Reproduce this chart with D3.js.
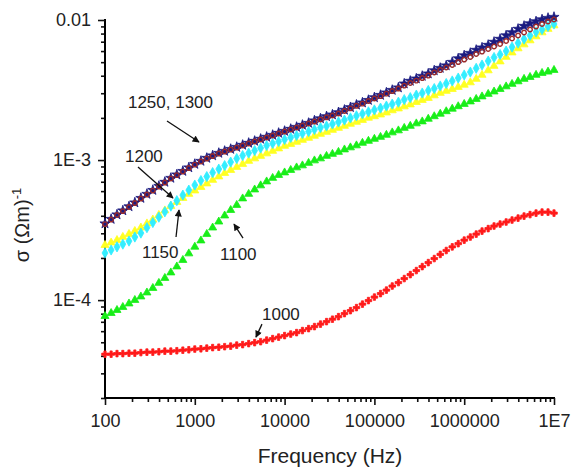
<!DOCTYPE html>
<html><head><meta charset="utf-8">
<script src="https://cdn.jsdelivr.net/npm/d3@7"></script>
<style>body{margin:0;background:#fff}text{font-family:"Liberation Sans",Arial,sans-serif}</style>
</head><body><svg id="c" width="572" height="475"></svg>
<script>
const freq = [100,117,136,158,185,215,251,293,341,398,464,541,631,736,858,
1000,1170,1360,1580,1850,2150,2510,2930,3410,3980,4640,5410,6310,7360,8580,
10000,11700,13600,15800,18500,21500,25100,29300,34100,39800,46400,54100,63100,73600,85800,
100000,117000,136000,158000,185000,215000,251000,293000,341000,398000,464000,541000,631000,736000,858000,
1000000,1170000,1360000,1580000,1850000,2150000,2510000,2930000,3410000,3980000,4640000,5410000,6310000,7360000,8580000,
10000000];

const sigma1000 = [4.11e-5,4.11e-5,4.15e-5,4.15e-5,4.18e-5,4.18e-5,4.22e-5,4.25e-5,4.25e-5,4.28e-5,4.32e-5,4.32e-5,4.35e-5,4.39e-5,4.42e-5,
4.47e-5,4.49e-5,4.54e-5,4.58e-5,4.61e-5,4.65e-5,4.69e-5,4.77e-5,4.81e-5,4.89e-5,4.97e-5,5.05e-5,5.18e-5,5.31e-5,5.44e-5,
5.58e-5,5.72e-5,5.86e-5,6.06e-5,6.26e-5,6.47e-5,6.74e-5,7.02e-5,7.31e-5,7.62e-5,8.01e-5,8.41e-5,8.84e-5,9.36e-5,9.92e-5,
1.051e-4,1.113e-4,1.179e-4,1.26e-4,1.334e-4,1.425e-4,1.521e-4,1.625e-4,1.735e-4,1.853e-4,1.98e-4,2.12e-4,2.26e-4,2.40e-4,2.53e-4,
2.68e-4,2.82e-4,2.96e-4,3.11e-4,3.24e-4,3.38e-4,3.49e-4,3.61e-4,3.73e-4,3.85e-4,3.98e-4,4.08e-4,4.18e-4,4.25e-4,4.25e-4,
4.18e-4];

const sigma1100 = [7.68e-5,8.07e-5,8.48e-5,8.91e-5,9.44e-5,1.00e-4,1.059e-4,1.131e-4,1.218e-4,1.324e-4,1.437e-4,1.572e-4,1.735e-4,1.93e-4,2.15e-4,
2.40e-4,2.66e-4,2.96e-4,3.29e-4,3.63e-4,4.01e-4,4.39e-4,4.77e-4,5.31e-4,5.72e-4,6.15e-4,6.58e-4,7.02e-4,7.44e-4,7.81e-4,
8.14e-4,8.48e-4,8.84e-4,9.14e-4,9.52e-4,9.92e-4,1.025e-3,1.068e-3,1.104e-3,1.141e-3,1.188e-3,1.229e-3,1.27e-3,1.324e-3,1.368e-3,
1.414e-3,1.46e-3,1.51e-3,1.572e-3,1.625e-3,1.693e-3,1.75e-3,1.823e-3,1.883e-3,1.967e-3,2.05e-3,2.136e-3,2.226e-3,2.32e-3,2.416e-3,
2.51e-3,2.615e-3,2.725e-3,2.84e-3,2.96e-3,3.08e-3,3.21e-3,3.35e-3,3.49e-3,3.64e-3,3.79e-3,3.91e-3,4.05e-3,4.18e-3,4.27e-3,
4.39e-3];

const sigma1150 = [2.47e-4,2.57e-4,2.68e-4,2.82e-4,2.96e-4,3.11e-4,3.29e-4,3.52e-4,3.75e-4,4.05e-4,4.36e-4,4.69e-4,5.01e-4,5.35e-4,5.72e-4,
6.05e-4,6.41e-4,6.79e-4,7.2e-4,7.62e-4,8.07e-4,8.48e-4,8.91e-4,9.36e-4,9.84e-4,1.025e-3,1.068e-3,1.113e-3,1.16e-3,1.208e-3,
1.26e-3,1.30e-3,1.346e-3,1.39e-3,1.437e-3,1.486e-3,1.534e-3,1.585e-3,1.638e-3,1.693e-3,1.75e-3,1.81e-3,1.87e-3,1.93e-3,2.00e-3,
2.05e-3,2.11e-3,2.18e-3,2.26e-3,2.33e-3,2.41e-3,2.49e-3,2.59e-3,2.68e-3,2.77e-3,2.89e-3,3.01e-3,3.11e-3,3.21e-3,3.32e-3,
3.44e-3,3.58e-3,3.79e-3,4.05e-3,4.36e-3,4.69e-3,5.05e-3,5.44e-3,5.85e-3,6.26e-3,6.68e-3,7.14e-3,7.62e-3,8.14e-3,8.62e-3,
9.13e-3];

const sigma1200 = [2.17e-4,2.28e-4,2.40e-4,2.51e-4,2.64e-4,2.82e-4,3.01e-4,3.29e-4,3.58e-4,3.91e-4,4.27e-4,4.69e-4,5.13e-4,5.62e-4,6.10e-4,
6.63e-4,7.14e-4,7.62e-4,8.14e-4,8.62e-4,9.13e-4,9.67e-4,1.025e-3,1.077e-3,1.122e-3,1.169e-3,1.218e-3,1.27e-3,1.313e-3,1.357e-3,
1.403e-3,1.45e-3,1.497e-3,1.547e-3,1.598e-3,1.652e-3,1.707e-3,1.75e-3,1.81e-3,1.87e-3,1.93e-3,2.00e-3,2.07e-3,2.14e-3,2.21e-3,
2.28e-3,2.35e-3,2.43e-3,2.51e-3,2.59e-3,2.70e-3,2.79e-3,2.91e-3,3.01e-3,3.14e-3,3.24e-3,3.38e-3,3.52e-3,3.67e-3,3.85e-3,
4.05e-3,4.25e-3,4.52e-3,4.77e-3,5.09e-3,5.40e-3,5.67e-3,6.00e-3,6.41e-3,6.85e-3,7.31e-3,7.75e-3,8.21e-3,8.55e-3,8.98e-3,
9.36e-3];

const sigma1250 = [3.49e-4,3.76e-4,4.05e-4,4.32e-4,4.62e-4,4.93e-4,5.31e-4,5.67e-4,6.05e-4,6.47e-4,6.91e-4,7.38e-4,7.81e-4,8.27e-4,8.77e-4,
9.28e-4,9.76e-4,1.025e-3,1.068e-3,1.113e-3,1.15e-3,1.188e-3,1.228e-3,1.27e-3,1.313e-3,1.357e-3,1.403e-3,1.45e-3,1.497e-3,1.547e-3,
1.598e-3,1.652e-3,1.707e-3,1.765e-3,1.823e-3,1.883e-3,1.95e-3,2.02e-3,2.08e-3,2.15e-3,2.24e-3,2.34e-3,2.44e-3,2.53e-3,2.64e-3,
2.75e-3,2.86e-3,2.98e-3,3.11e-3,3.24e-3,3.40e-3,3.55e-3,3.69e-3,3.85e-3,4.01e-3,4.22e-3,4.39e-3,4.58e-3,4.77e-3,5.01e-3,
5.22e-3,5.44e-3,5.72e-3,5.95e-3,6.21e-3,6.47e-3,6.74e-3,7.08e-3,7.38e-3,7.75e-3,8.14e-3,8.55e-3,8.98e-3,9.36e-3,9.76e-3,
1.008e-2];

const sigma1300 = [3.52e-4,3.79e-4,4.08e-4,4.36e-4,4.66e-4,4.97e-4,5.35e-4,5.72e-4,6.10e-4,6.52e-4,6.97e-4,7.44e-4,7.87e-4,8.34e-4,8.84e-4,
9.36e-4,9.84e-4,1.034e-3,1.077e-3,1.122e-3,1.16e-3,1.198e-3,1.238e-3,1.281e-3,1.324e-3,1.368e-3,1.415e-3,1.462e-3,1.509e-3,1.56e-3,
1.611e-3,1.666e-3,1.721e-3,1.78e-3,1.838e-3,1.914e-3,1.98e-3,2.05e-3,2.11e-3,2.19e-3,2.28e-3,2.38e-3,2.48e-3,2.57e-3,2.68e-3,
2.80e-3,2.91e-3,3.03e-3,3.16e-3,3.29e-3,3.51e-3,3.67e-3,3.81e-3,3.98e-3,4.14e-3,4.36e-3,4.54e-3,4.73e-3,5.01e-3,5.31e-3,
5.58e-3,5.81e-3,6.11e-3,6.35e-3,6.63e-3,6.97e-3,7.32e-3,7.75e-3,8.15e-3,8.63e-3,9.06e-3,9.44e-3,9.76e-3,1.008e-2,1.033e-2,
1.05e-2];

const xTickValues = [100,1000,10000,100000,1000000,10000000];
const xTickLabels = ["100","1000","10000","100000","1000000","1E7"];
const yTickValues = [1e-4,1e-3,1e-2];
const yTickLabels = ["1E-4","1E-3","0.01"];

// annotations: label text, label anchor (freq, sigma), arrow from/to (freq, sigma)
const annotations = [
  {text:"1250, 1300", f:180,  s:2.35e-3, a:[490,1.90e-3], b:[1114,1.345e-3]},
  {text:"1200",       f:167,  s:9.68e-4, a:[233,8.91e-4], b:[572,5.35e-4]},
  {text:"1150",       f:258,  s:2.0e-4,  a:[618,2.82e-4], b:[667,4.40e-4]},
  {text:"1100",       f:1909, s:1.93e-4, a:[3443,2.77e-4], b:[2732,3.49e-4]},
  {text:"1000",       f:5600, s:7.2e-5,  a:[5600,6.74e-5], b:[4800,5.44e-5]}
];

const series = [
  {name:"1000", values:sigma1000, color:"#ff1a1a", type:d3.symbolCross, size:24, open:false},
  {name:"1100", values:sigma1100, color:"#18ee18", type:d3.symbolTriangle, size:28, open:false},
  {name:"1150", values:sigma1150, color:"#ffff22", type:d3.symbolTriangle, size:28, open:false},
  {name:"1200", values:sigma1200, color:"#33eeff", type:d3.symbolDiamond, size:30, open:false},
  {name:"1300", values:sigma1300, color:"#1a1a80", type:d3.symbolStar, size:32, open:false},
  {name:"1250", values:sigma1250, color:"#9a2a2a", type:d3.symbolCircle, size:16, open:true}
];

const svg = d3.select("#c");
const x = d3.scaleLog().domain([100,1e7]).range([105,554]);
const y = d3.scaleLog().domain([2e-5,1e-2]).range([398,20]);

// minor ticks
const xMinor = [], yMinor = [];
for (const d of [100,1000,10000,100000,1000000]) for (let k=2;k<=9;k++) xMinor.push(d*k);
for (const base of [1e-5,1e-4,1e-3]) for (let k=2;k<=9;k++) yMinor.push(base*k);

const gx = svg.append("g").attr("transform","translate(0,398)");
gx.call(d3.axisBottom(x).tickValues(xMinor).tickSize(4).tickSizeOuter(0).tickFormat(""));
gx.call(g=>g.selectAll(".domain").remove());
const gx2 = svg.append("g").attr("transform","translate(0,398)")
  .call(d3.axisBottom(x).tickValues(xTickValues).tickSize(7).tickPadding(9).tickSizeOuter(0)
    .tickFormat((d,i)=>xTickLabels[i]));
gx2.select(".domain").attr("stroke-width",2).attr("d","M104,0H555");
gx2.selectAll("text").attr("font-size",18).attr("fill","#222");

const gy = svg.append("g").attr("transform","translate(105,0)");
gy.call(d3.axisLeft(y).tickValues(yMinor).tickSize(4).tickSizeOuter(0).tickFormat(""));
gy.call(g=>g.selectAll(".domain").remove());
const gy2 = svg.append("g").attr("transform","translate(105,0)")
  .call(d3.axisLeft(y).tickValues(yTickValues).tickSize(7).tickPadding(7).tickSizeOuter(0)
    .tickFormat((d,i)=>yTickLabels[i]));
gy2.select(".domain").attr("stroke-width",2).attr("d","M0,19V399");
gy2.selectAll("text").attr("font-size",18).attr("fill","#222");
svg.selectAll(".tick line").attr("stroke-width",1.6).attr("stroke","#111");

// data markers
const sym = d3.symbol();
for (const s of series) {
  svg.append("g").selectAll("path").data(s.values).join("path")
    .attr("transform",(d,i)=>`translate(${x(freq[i])},${y(d)})`)
    .attr("d", d=>sym.type(s.type).size(s.size)())
    .attr("fill", s.open ? "none" : s.color)
    .attr("stroke", s.color)
    .attr("stroke-width", s.open ? 1.4 : 0.8);
}

// arrows
svg.append("defs").append("marker").attr("id","ah")
  .attr("viewBox","0 0 10 10").attr("refX",9).attr("refY",5)
  .attr("markerWidth",9).attr("markerHeight",7).attr("markerUnits","userSpaceOnUse")
  .attr("orient","auto")
  .append("path").attr("d","M0,0L10,5L0,10z").attr("fill","#111");

const ann = svg.append("g");
for (const a of annotations) {
  ann.append("line").attr("x1",x(a.a[0])).attr("y1",y(a.a[1]))
    .attr("x2",x(a.b[0])).attr("y2",y(a.b[1]))
    .attr("stroke","#111").attr("stroke-width",1.3).attr("marker-end","url(#ah)");
  ann.append("text").attr("x",x(a.f)).attr("y",y(a.s)).attr("font-size",17).attr("fill","#222").text(a.text);
}

// axis titles
svg.append("text").attr("x",330).attr("y",463).attr("text-anchor","middle")
  .attr("font-size",21).attr("fill","#222").text("Frequency (Hz)");
const yt = svg.append("text").attr("transform","translate(29,225) rotate(-90)")
  .attr("text-anchor","middle").attr("font-size",20).attr("fill","#222");
yt.append("tspan").text("σ (Ωm)");
yt.append("tspan").attr("font-size",13).attr("dy",-8).text("-1");
</script></body></html>
